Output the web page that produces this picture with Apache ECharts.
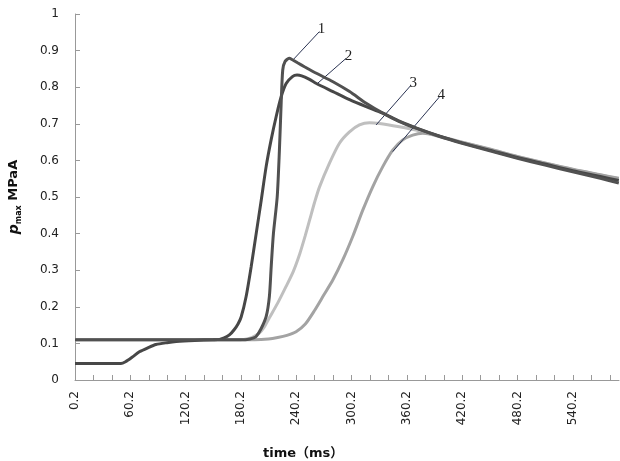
<!DOCTYPE html>
<html>
<head>
<meta charset="utf-8">
<script src="https://cdn.jsdelivr.net/npm/echarts@6/dist/echarts.min.js"></script>
<style>html,body{margin:0;padding:0;background:#fff;}#c{width:620px;height:461px;}</style>
</head>
<body>
<div id="c"></div>
<script>
// Curve 1: sharp peak
const curve1 = [[0.2,0.11],[150,0.11],[185,0.11],[190,0.112],[194,0.115],[197,0.12],[202,0.14],[207.5,0.173],[211,0.228],[213,0.31],[215.4,0.40],[219.5,0.5],[221.9,0.628],[223.8,0.756],[225.5,0.847],[228,0.87],[232.5,0.879],[236,0.875],[242,0.866],[249,0.856],[262,0.838],[280,0.815],[298,0.788],[316,0.756],[334,0.729],[352,0.706],[370,0.688],[395,0.666],[420,0.647],[450,0.626],[480,0.606],[510,0.587],[540,0.569],[570,0.551],[590,0.538]];
// Curve 2: rounded peak, low start
const curve2 = [[0.2,0.045],[50,0.045],[55,0.05],[62,0.062],[70,0.077],[80,0.089],[88,0.097],[100,0.102],[110,0.105],[130,0.108],[150,0.11],[157,0.111],[162,0.115],[168,0.124],[173,0.138],[177,0.153],[180.4,0.172],[185.8,0.228],[191.3,0.31],[196.7,0.40],[202.1,0.49],[207.5,0.583],[212.9,0.656],[218.4,0.72],[223.8,0.774],[229.2,0.81],[236,0.829],[241,0.833],[246,0.831],[254,0.822],[262,0.81],[280,0.788],[298,0.766],[316,0.747],[334,0.729],[352,0.707],[370,0.689],[395,0.667],[420,0.648],[450,0.628],[480,0.608],[510,0.59],[540,0.572],[570,0.556],[590,0.545]];
// Curve 3: light grey
const curve3 = [[0.2,0.11],[180,0.11],[188,0.113],[193,0.117],[200,0.128],[205,0.143],[211,0.17],[220,0.21],[229,0.255],[237,0.297],[244,0.345],[250,0.395],[255,0.44],[260,0.485],[265.3,0.527],[276.1,0.592],[287,0.647],[297.9,0.678],[308.7,0.697],[319.6,0.703],[330.4,0.701],[352,0.692],[370,0.683],[395,0.665],[417,0.651],[450,0.63],[480,0.61],[510,0.592],[540,0.575],[570,0.56],[590,0.55]];
// Curve 4: medium grey
const curve4 = [[0.2,0.11],[195,0.11],[210,0.112],[220,0.116],[230,0.122],[240,0.132],[250,0.153],[260,0.19],[270,0.232],[279.8,0.273],[290.6,0.328],[301.4,0.392],[312.3,0.464],[323.1,0.528],[334,0.583],[344.8,0.628],[355.7,0.656],[366.5,0.669],[377.3,0.674],[385,0.672],[395,0.666],[417,0.652],[450,0.631],[480,0.611],[510,0.593],[540,0.576],[570,0.561],[590,0.551]];
// Annotation leader lines (data units): [label, fromPoint, toPoint]
const annotations = [
  ['1', [236.4,0.874], [265.3,0.952]],
  ['2', [263.5,0.811], [294.3,0.879]],
  ['3', [326.8,0.697], [364.8,0.806]],
  ['4', [344.8,0.624], [395.3,0.773]]
];
const xMin = 0.2, xMax = 590.2, xStep = 20, xLabelStep = 60;
const yMin = 0, yMax = 1, yStep = 0.1;

const chart = echarts.init(document.getElementById('c'), null, {renderer:'canvas'});
const FONT = 'DejaVu Sans';
function lineSeries(name, data, color, z, extra) {
  return Object.assign({
    name, type:'line', data, showSymbol:false, symbol:'none', smooth:0.25,
    lineStyle:{color, width:3}, itemStyle:{color}, z, animation:false
  }, extra||{});
}
chart.setOption({
  animation:false,
  title:{text:'time（ms）', left:258, top:442, textStyle:{fontFamily:FONT+', "Noto Sans CJK SC"', fontSize:13, fontWeight:'bold', color:'#111'}},
  grid:{left:75, right:1, top:14, bottom:81, containLabel:false, outerBoundsMode:'none'},
  xAxis:{
    type:'value', min:xMin, max:xMax, interval:xStep,
    axisLine:{show:true, lineStyle:{color:'#999', width:1}},
    axisTick:{show:true, inside:true, length:5, lineStyle:{color:'#999'}},
    splitLine:{show:false},
    axisLabel:{rotate:90, margin:11, fontFamily:FONT, fontSize:12, color:'#222',
      formatter:v=>{ const k=Math.round((v-xMin)/xLabelStep*1000)/1000; return (Number.isInteger(k) && v<xMax-1)? (Math.round(v*10)/10).toFixed(1):''; },
      showMaxLabel:false}
  },
  yAxis:{
    type:'value', min:yMin, max:yMax, interval:yStep,
    axisLine:{show:true, lineStyle:{color:'#999', width:1}},
    axisTick:{show:true, inside:true, length:5, lineStyle:{color:'#999'}},
    splitLine:{show:false},
    axisLabel:{margin:16, fontFamily:FONT, fontSize:12, color:'#222', formatter:v=>String(Math.round(v*10)/10)},
    name:'{p|p}{s|max}{u| MPaA}', nameLocation:'middle', nameRotate:90, nameGap:52,
    nameTextStyle:{rich:{
      p:{fontFamily:FONT, fontStyle:'italic', fontWeight:'bold', fontSize:14, color:'#111', lineHeight:18, verticalAlign:'middle'},
      s:{fontFamily:FONT, fontWeight:'bold', fontSize:8, color:'#111', lineHeight:18, verticalAlign:'bottom', padding:[6,0,0,0]},
      u:{fontFamily:FONT, fontWeight:'bold', fontSize:13, color:'#111', lineHeight:18, verticalAlign:'middle'}
    }}
  },
  series:[
    lineSeries('3', curve3, '#bfbfbf', 2),
    lineSeries('4', curve4, '#a3a3a3', 3),
    lineSeries('2', curve2, '#474747', 4),
    lineSeries('1', curve1, '#515151', 5, {
      markLine:{
        silent:true, symbol:['none','none'], animation:false,
        lineStyle:{color:'#2a3352', width:1, type:'solid'},
        label:{show:true, position:'end', distance:3, formatter:'{b}', fontFamily:'Liberation Serif', fontSize:15, color:'#222'},
        data: annotations.map(a=>[{name:a[0], coord:a[1]},{coord:a[2]}])
      }
    })
  ]
});
</script>
</body>
</html>
